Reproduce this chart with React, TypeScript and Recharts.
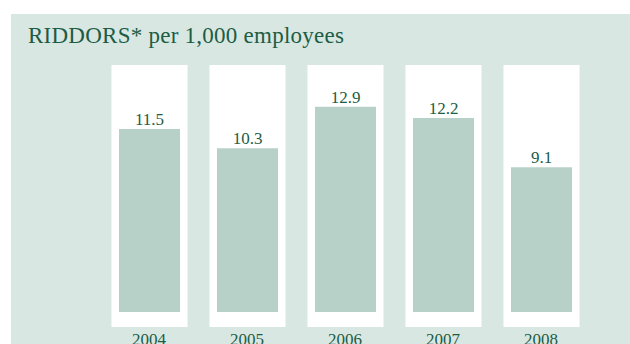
import { BarChart, Bar, XAxis, YAxis, LabelList } from 'recharts';

const years = ['2004', '2005', '2006', '2007', '2008'];
const riddorRates = [11.5, 10.3, 12.9, 12.2, 9.1];

const PANEL = '#d9e7e2';
const BAR = '#b7d1c9';
const INK = '#1c5d45';
const FONT = '"Liberation Serif", "DejaVu Serif", serif';

const data = years.map((year, i) => ({ year, rate: riddorRates[i] }));

// white card behind each bar, a little wider than the bar itself
function Card(props: any) {
  const { x, y, width, height } = props;
  return <rect x={x - 7.5} y={y} width={width + 15} height={height} fill="#ffffff" />;
}

function YearTick({ x, y, payload }: any) {
  return (
    <text x={x} y={y} dy={18} textAnchor="middle" fill={INK} fontSize={17} fontFamily={FONT}>
      {payload.value}
    </text>
  );
}

export default function App() {
  return (
    <div style={{ position: 'absolute', left: 0, top: 0, width: 630, height: 344, background: '#fff', overflow: 'hidden' }}>
      <div style={{ position: 'absolute', left: 11, top: 14, width: 619, height: 330, background: PANEL }} />
      <div
        style={{
          position: 'absolute',
          left: 28,
          top: 23,
          fontFamily: FONT,
          fontSize: 23,
          letterSpacing: 0.25,
          color: INK,
          whiteSpace: 'nowrap',
          lineHeight: '26px',
        }}
      >
        RIDDORS* per 1,000 employees
      </div>
      <div style={{ position: 'absolute', left: 0, top: 0 }}>
        <BarChart width={630} height={344} data={data} margin={{ top: 65, right: 40, bottom: 0, left: 100 }}>
          <XAxis
            dataKey="year"
            height={17}
            axisLine={false}
            tickLine={false}
            tickSize={0}
            tickMargin={0}
            interval={0}
            tick={<YearTick />}
          />
          <YAxis hide domain={[-0.943, 15.53]} allowDataOverflow />
          <Bar dataKey="rate" fill={BAR} barSize={61} background={<Card />} isAnimationActive={false}>
            <LabelList dataKey="rate" position="top" offset={4} fill={INK} fontSize={17} fontFamily={FONT} />
          </Bar>
        </BarChart>
      </div>
    </div>
  );
}
